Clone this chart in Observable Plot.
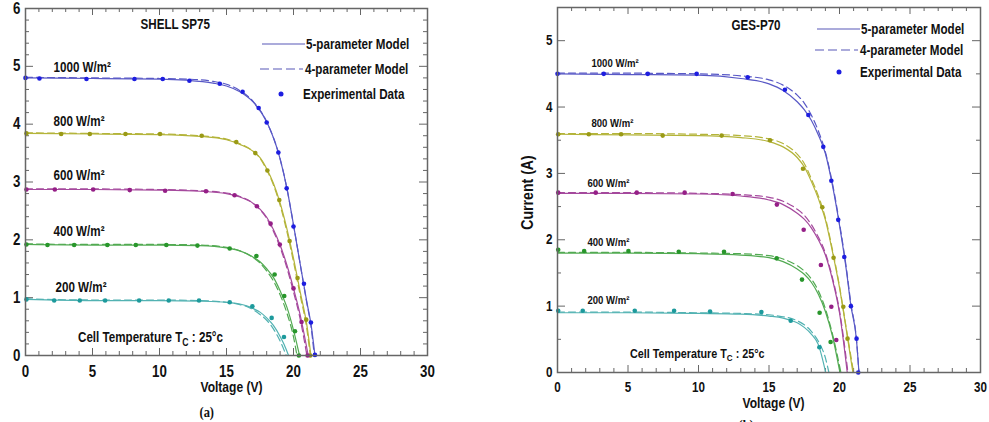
<!DOCTYPE html>
<html><head><meta charset="utf-8">
<script src="https://cdn.jsdelivr.net/npm/d3@7"></script>
<script src="https://cdn.jsdelivr.net/npm/@observablehq/plot@0.6"></script>
<style>
html,body{margin:0;padding:0;background:#fff;}
#wrap{position:relative;width:989px;height:422px;overflow:hidden;background:#fff;}
#pa,#pb{position:absolute;top:0;}
#pa{left:0;width:450px;} #pb{left:500px;width:489px;}
</style></head><body><div id="wrap"><div id="pa"></div><div id="pb"></div></div>
<script>
// ---------------- DATA ----------------
const irradiances = [1000, 800, 600, 400, 200];
const irrLabels = ["1000 W/m²", "800 W/m²", "600 W/m²", "400 W/m²", "200 W/m²"];
const xTicks = [0, 5, 10, 15, 20, 25, 30];
const yTicksA = [0, 1, 2, 3, 4, 5, 6];
const yTicksB = [0, 1, 2, 3, 4, 5];

// (a) SHELL SP75 — 5-parameter model [V, I]
const sp75_5p_1000 = [[0,4.80],[5,4.79],[10,4.78],[12,4.76],[14,4.71],[15,4.66],[16,4.56],[17,4.38],[18,4.04],[19,3.40],[19.5,2.90],[20,2.26],[20.5,1.58],[21,0.92],[21.3,0.55],[21.6,0]];
const sp75_5p_800  = [[0,3.84],[5,3.83],[10,3.82],[13,3.79],[15,3.73],[16,3.65],[17,3.53],[17.5,3.42],[18,3.23],[18.5,2.98],[19,2.64],[19.5,2.20],[20,1.68],[20.5,1.10],[21,0.52],[21.3,0]];
const sp75_5p_600  = [[0,2.87],[5,2.87],[10,2.86],[13,2.84],[15,2.80],[16,2.74],[17,2.63],[17.5,2.53],[18,2.39],[18.5,2.18],[19,1.91],[19.5,1.57],[20,1.16],[20.5,0.70],[21.1,0]];
const sp75_5p_400  = [[0,1.92],[5,1.91],[10,1.91],[13,1.90],[15,1.86],[16,1.81],[17,1.70],[17.5,1.62],[18,1.50],[18.5,1.35],[19,1.12],[19.5,0.84],[20,0.44],[20.45,0]];
const sp75_5p_200  = [[0,0.97],[5,0.95],[10,0.95],[13,0.94],[15,0.92],[16,0.89],[16.5,0.86],[17,0.81],[17.5,0.75],[18,0.65],[18.5,0.52],[19,0.33],[19.3,0.19],[19.63,0]];
// (a) SHELL SP75 — 4-parameter model [V, I]
const sp75_4p_1000 = [[0,4.81],[5,4.80],[10,4.79],[12,4.78],[14,4.74],[15,4.69],[16,4.58],[17,4.39],[18,4.04],[19,3.40],[19.5,2.90],[20,2.26],[20.5,1.58],[21,0.90],[21.3,0.52],[21.55,0]];
const sp75_4p_800  = [[0,3.85],[5,3.84],[10,3.83],[13,3.80],[15,3.74],[16,3.66],[17,3.53],[17.5,3.41],[18,3.21],[18.5,2.95],[19,2.60],[19.5,2.15],[20,1.62],[20.5,1.04],[21,0.45],[21.25,0]];
const sp75_4p_600  = [[0,2.88],[5,2.88],[10,2.87],[13,2.85],[15,2.81],[16,2.75],[17,2.63],[17.5,2.52],[18,2.37],[18.5,2.15],[19,1.87],[19.5,1.52],[20,1.10],[20.5,0.63],[21.0,0]];
const sp75_4p_400  = [[0,1.93],[5,1.92],[10,1.92],[13,1.91],[15,1.87],[16,1.81],[17,1.69],[17.5,1.60],[18,1.46],[18.5,1.29],[19,1.05],[19.5,0.74],[20,0.32],[20.26,0]];
const sp75_4p_200  = [[0,0.98],[5,0.96],[10,0.96],[13,0.95],[15,0.92],[16,0.88],[16.5,0.85],[17,0.79],[17.5,0.71],[18,0.61],[18.5,0.46],[19,0.25],[19.46,0]];
// (a) SHELL SP75 — experimental data [V, I]
const sp75_exp_1000 = [[0,4.80],[1.04,4.79],[4.55,4.78],[8.13,4.78],[10.24,4.78],[12.23,4.75],[14.5,4.70],[16.2,4.56],[17.4,4.28],[18.0,4.03],[18.87,3.51],[19.49,2.89],[20.0,2.23],[20.78,1.24],[21.3,0.57],[21.6,0.01]];
const sp75_exp_800  = [[0.07,3.84],[2.66,3.83],[4.8,3.83],[7.46,3.83],[10.04,3.83],[13.15,3.80],[15.73,3.69],[17.15,3.50],[18.05,3.20],[18.94,2.69],[19.71,1.98],[20.3,1.34],[20.95,0.62],[21.25,0.0]];
const sp75_exp_600  = [[0.07,2.87],[2.19,2.87],[5.05,2.87],[7.78,2.86],[10.42,2.85],[13.47,2.84],[15.6,2.77],[17.27,2.58],[18.29,2.28],[18.98,1.92],[20.0,1.16],[20.6,0.58],[21.05,0.0]];
const sp75_exp_400  = [[0.07,1.92],[1.64,1.91],[3.63,1.91],[6.11,1.91],[8.23,1.91],[10.51,1.91],[12.83,1.90],[15.24,1.85],[17.23,1.72],[18.59,1.40],[19.31,1.03],[20.11,0.42],[20.4,0.0]];
const sp75_exp_200  = [[0.07,0.97],[2.14,0.95],[4.05,0.95],[5.94,0.95],[8.48,0.95],[10.69,0.95],[12.95,0.95],[15.24,0.92],[16.93,0.85],[18.37,0.65],[19.29,0.32]];

// (b) GES-P70 — 5-parameter model [V, I]
const gp70_5p_1000 = [[0,4.50],[5,4.49],[10,4.48],[13,4.43],[15,4.35],[16,4.25],[17,4.08],[17.5,3.96],[18,3.80],[18.5,3.58],[19,3.30],[19.5,2.82],[20,2.22],[20.5,1.52],[20.8,1.02],[21.2,0.50],[21.38,0]];
const gp70_5p_800  = [[0,3.59],[5,3.58],[10,3.57],[13,3.54],[15,3.48],[16,3.40],[17,3.24],[17.5,3.10],[18,2.88],[18.5,2.62],[19,2.30],[19.5,1.82],[20,1.28],[20.5,0.62],[20.95,0]];
const gp70_5p_600  = [[0,2.70],[5,2.70],[10,2.69],[13,2.66],[15,2.60],[16,2.53],[17,2.40],[17.5,2.31],[18,2.18],[18.5,2.00],[19,1.77],[19.5,1.40],[20,0.90],[20.55,0]];
const gp70_5p_400  = [[0,1.80],[5,1.80],[10,1.79],[13,1.77],[15,1.73],[16,1.67],[17,1.56],[17.5,1.48],[18,1.36],[18.5,1.18],[19,0.92],[19.5,0.55],[20.03,0]];
const gp70_5p_200  = [[0,0.90],[5,0.90],[10,0.89],[13,0.88],[15,0.85],[16,0.82],[16.5,0.79],[17,0.75],[17.5,0.68],[18,0.58],[18.5,0.42],[19.02,0]];
// (b) GES-P70 — 4-parameter model [V, I]
const gp70_4p_1000 = [[0,4.51],[5,4.51],[10,4.50],[13,4.47],[15,4.41],[16,4.33],[17,4.18],[17.5,4.06],[18,3.88],[18.5,3.64],[19,3.32],[19.5,2.85],[20,2.25],[20.5,1.55],[20.8,1.05],[21.2,0.50],[21.38,0]];
const gp70_4p_800  = [[0,3.60],[5,3.60],[10,3.59],[13,3.57],[15,3.52],[16,3.45],[17,3.29],[17.5,3.15],[18,2.92],[18.5,2.66],[19,2.33],[19.5,1.85],[20,1.30],[20.5,0.64],[21.0,0]];
const gp70_4p_600  = [[0,2.71],[5,2.71],[10,2.70],[13,2.68],[15,2.64],[16,2.58],[17,2.46],[17.5,2.37],[18,2.23],[18.5,2.04],[19,1.80],[19.5,1.43],[20,0.93],[20.6,0]];
const gp70_4p_400  = [[0,1.81],[5,1.81],[10,1.80],[13,1.79],[15,1.76],[16,1.71],[17,1.61],[17.5,1.53],[18,1.41],[18.5,1.23],[19,0.96],[19.5,0.58],[20.1,0]];
const gp70_4p_200  = [[0,0.91],[5,0.91],[10,0.90],[13,0.89],[15,0.87],[16,0.84],[16.5,0.82],[17,0.78],[17.5,0.72],[18,0.62],[18.5,0.47],[19,0.22],[19.25,0]];
// (b) GES-P70 — experimental data [V, I]
const gp70_exp_1000 = [[0,4.50],[3.28,4.50],[6.40,4.50],[9.87,4.50],[13.49,4.45],[16.13,4.26],[17.79,3.88],[18.85,3.40],[19.42,2.89],[19.91,2.30],[20.34,1.74],[20.81,1.00],[21.21,0.51],[21.33,0]];
const gp70_exp_800  = [[0.05,3.59],[2.22,3.59],[4.51,3.59],[7.46,3.57],[11.64,3.57],[15.07,3.50],[17.41,3.07],[18.78,2.49],[19.58,1.73],[20.27,0.99],[20.57,0.51]];
const gp70_exp_600  = [[0.05,2.71],[2.71,2.71],[5.62,2.71],[9.02,2.71],[12.42,2.69],[15.56,2.53],[17.46,2.15],[18.68,1.62],[19.42,0.99],[19.77,0.49]];
const gp70_exp_400  = [[0.05,1.85],[1.89,1.83],[5.03,1.83],[8.6,1.82],[11.81,1.82],[15.54,1.72],[17.34,1.40],[18.59,0.90],[19.37,0.46]];
const gp70_exp_200  = [[0.05,0.93],[1.79,0.93],[5.48,0.93],[8.27,0.93],[10.82,0.92],[14.46,0.91],[16.54,0.78],[18.57,0.38]];

// ---------------- STYLE ----------------
const FONT = "'Liberation Sans',Arial,sans-serif";
const NARROW = 0.83; // condense glyphs horizontally (reference uses a narrow face)
const lineColor = {1000: "#5858c6", 800: "#b4b43a", 600: "#a5499d", 400: "#52aa52", 200: "#52b2b2"};
const dotColor  = {1000: "#1d1de0", 800: "#9a9a16", 600: "#951f87", 400: "#28962b", 200: "#1d9a9c"};
const frameColor = "#666";

function toRows(pairs) { return pairs.map(([v, a]) => ({v, a})); }

function makePanel(cfg) {
  const fw = cfg.W - cfg.mL - cfg.mR, fh = cfg.H - cfg.mT - cfg.mB;
  const xMinor = d3.range(0, 31, 1).filter(v => v % 5 !== 0);
  const yMinor = d3.range(0, cfg.yMax + 1e-9, cfg.yMinorStep).filter(v => Math.abs(v - Math.round(v)) > 1e-6);
  const marks = [];
  const tk = {stroke: frameColor, strokeWidth: 1};
  // inward ticks on all four sides
  marks.push(Plot.ruleX(cfg.xTicks, {...tk, insetTop: fh - 7}));
  marks.push(Plot.ruleX(xMinor, {...tk, insetTop: fh - 4}));
  marks.push(Plot.ruleX(cfg.xTicks, {...tk, insetBottom: fh - 7}));
  marks.push(Plot.ruleX(xMinor, {...tk, insetBottom: fh - 4}));
  marks.push(Plot.ruleY(cfg.yTicks, {...tk, insetRight: fw - 8}));
  marks.push(Plot.ruleY(yMinor, {...tk, insetRight: fw - 4}));
  marks.push(Plot.ruleY(cfg.yTicks, {...tk, insetLeft: fw - 8}));
  marks.push(Plot.ruleY(yMinor, {...tk, insetLeft: fw - 4}));
  // curves and measured points
  irradiances.forEach((g, i) => {
    marks.push(Plot.line(toRows(cfg.m4[i]), {x: "v", y: "a", stroke: lineColor[g], strokeWidth: 1.2, strokeDasharray: "7,4", curve: "monotone-x"}));
    marks.push(Plot.line(toRows(cfg.m5[i]), {x: "v", y: "a", stroke: lineColor[g], strokeWidth: 1.2, curve: "monotone-x"}));
    marks.push(Plot.dot(toRows(cfg.exp[i]), {x: "v", y: "a", r: 2.3, fill: dotColor[g], stroke: "none"}));
  });
  marks.push(Plot.frame({stroke: frameColor, strokeWidth: 1.5}));
  // axes
  marks.push(Plot.axisX(cfg.xTicks, {anchor: "bottom", tickSize: 0, tickPadding: cfg.xPad, fontSize: cfg.tickFont, tickFormat: d => String(d), label: null}));
  marks.push(Plot.axisY(cfg.yTicks, {anchor: "left", tickSize: 0, tickPadding: cfg.yPad, fontSize: cfg.tickFont, tickFormat: d => String(d), label: null}));
  // text annotations (pixel positions, relative to the frame's top-left)
  const note = (text, px, py, o = {}) => Plot.text([text], {frameAnchor: "top-left", dx: px - cfg.mL, dy: py - cfg.mT, lineAnchor: "middle", textAnchor: "start", ...o});
  cfg.notes.forEach(n => marks.push(note(n.t, n.x, n.y, n.o)));
  irrLabels.forEach((t, i) => marks.push(note(t, cfg.irrPos[i][0], cfg.irrPos[i][1], {fontSize: cfg.irrFont})));

  const svg = Plot.plot({
    width: cfg.W, height: cfg.H,
    marginLeft: cfg.mL, marginRight: cfg.mR, marginTop: cfg.mT, marginBottom: cfg.mB,
    x: {domain: [0, 30], label: null},
    y: {domain: [0, cfg.yMax], label: null},
    style: {fontFamily: FONT, fontWeight: "bold", background: "transparent", color: "#111", overflow: "visible"},
    marks
  });
  // legend and the subscripted note
  const s = d3.select(svg);
  const L = cfg.legend;
  const lg = s.append("g").style("font-size", "14px").attr("fill", "#111").attr("text-anchor", "start");
  lg.append("line").attr("x1", L.x1).attr("x2", L.x2).attr("y1", L.y[0]).attr("y2", L.y[0]).attr("stroke", "#5858b8").attr("stroke-width", 1.2);
  lg.append("text").attr("x", L.tx[0]).attr("y", L.y[0]).attr("dy", "0.35em").text("5-parameter Model");
  lg.append("line").attr("x1", L.x1 - 2).attr("x2", L.x2 - 2).attr("y1", L.y[1]).attr("y2", L.y[1]).attr("stroke", "#5858b8").attr("stroke-width", 1.2).attr("stroke-dasharray", "9,4");
  lg.append("text").attr("x", L.tx[1]).attr("y", L.y[1]).attr("dy", "0.35em").text("4-parameter Model");
  lg.append("circle").attr("cx", L.dx).attr("cy", L.y[2]).attr("r", 2.5).attr("fill", dotColor[1000]);
  lg.append("text").attr("x", L.tx[2]).attr("y", L.y[2]).attr("dy", "0.35em").text("Experimental Data");

  const c = cfg.cell;
  const t = s.append("text").attr("class", "keep")
    .attr("transform", `translate(${c.x},${c.y}) scale(${NARROW},1)`)
    .attr("dy", "0.35em").attr("text-anchor", "start")
    .style("font-size", c.fs + "px").attr("fill", "#111");
  t.append("tspan").text("Cell Temperature T");
  t.append("tspan").attr("dy", c.fs * 0.3).style("font-size", (c.fs * 0.75) + "px").text("C");
  t.append("tspan").attr("dy", -c.fs * 0.3).text(" : 25°c");
  return svg;
}

function condense(svg) {
  svg.querySelectorAll("text").forEach(t => {
    if (t.classList.contains("keep")) return;
    const w = t.getComputedTextLength();
    if (w > 0) {
      t.setAttribute("textLength", (w * NARROW).toFixed(2));
      t.setAttribute("lengthAdjust", "spacingAndGlyphs");
    }
  });
}

const svgA = makePanel({
  W: 450, H: 422, mL: 25, mR: 23, mT: 8, mB: 67,
  yMax: 6, yMinorStep: 0.2, xTicks, yTicks: yTicksA,
  xPad: 10, yPad: 5, tickFont: 16, irrFont: 14,
  m5: [sp75_5p_1000, sp75_5p_800, sp75_5p_600, sp75_5p_400, sp75_5p_200],
  m4: [sp75_4p_1000, sp75_4p_800, sp75_4p_600, sp75_4p_400, sp75_4p_200],
  exp: [sp75_exp_1000, sp75_exp_800, sp75_exp_600, sp75_exp_400, sp75_exp_200],
  irrPos: [[53, 67], [53, 121], [53, 175], [53, 231], [55, 287]],
  notes: [
    {t: "SHELL SP75", x: 140, y: 24, o: {fontSize: 14}},
    {t: "Voltage (V)", x: 200, y: 387, o: {fontSize: 14.5}},
    {t: "(a)", x: 199, y: 412, o: {fontSize: 15, fontFamily: "'Liberation Serif','Times New Roman',serif"}}
  ],
  legend: {x1: 262, x2: 305, y: [44, 69, 94], tx: [306, 305, 303], dx: 281},
  cell: {x: 78, y: 337, fs: 14}
});
document.getElementById("pa").appendChild(svgA);
condense(svgA);

const svgB = makePanel({
  W: 489, H: 422, mL: 57, mR: 9, mT: 7, mB: 50,
  yMax: 5.5, yMinorStep: 0.5, xTicks, yTicks: yTicksB,
  xPad: 10, yPad: 5, tickFont: 14, irrFont: 11.5,
  m5: [gp70_5p_1000, gp70_5p_800, gp70_5p_600, gp70_5p_400, gp70_5p_200],
  m4: [gp70_4p_1000, gp70_4p_800, gp70_4p_600, gp70_4p_400, gp70_4p_200],
  exp: [gp70_exp_1000, gp70_exp_800, gp70_exp_600, gp70_exp_400, gp70_exp_200],
  irrPos: [[91, 63], [91, 123], [87, 183], [87, 242], [87, 300]],
  notes: [
    {t: "GES-P70", x: 231, y: 25, o: {fontSize: 14}},
    {t: "Voltage (V)", x: 242, y: 403, o: {fontSize: 14.5}},
    {t: "Current (A)", x: 27, y: 192, o: {textAnchor: "middle", fontSize: 17, rotate: -90}},
    {t: "(b)", x: 238, y: 425, o: {fontSize: 15, fontFamily: "'Liberation Serif','Times New Roman',serif"}}
  ],
  legend: {x1: 317, x2: 360, y: [29, 50, 72], tx: [361, 360, 360], dx: 339},
  cell: {x: 130, y: 353, fs: 13}
});
document.getElementById("pb").appendChild(svgB);
condense(svgB);
</script></body></html>
